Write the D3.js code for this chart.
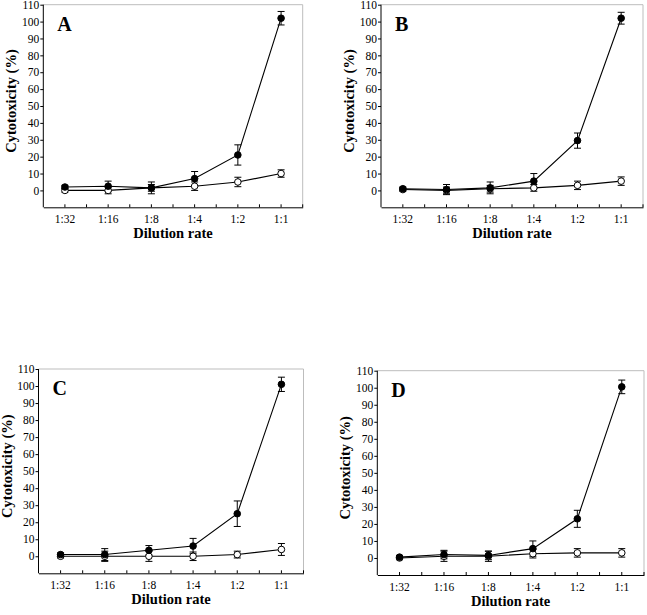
<!DOCTYPE html>
<html>
<head>
<meta charset="utf-8">
<script src="https://cdn.jsdelivr.net/npm/d3@7"></script>
<style>
  html, body { margin: 0; padding: 0; background: #fff; }
  svg { display: block; }
  svg text { font-family: "Liberation Serif", "Times New Roman", serif !important; fill: #000; }
</style>
</head>
<body>
<svg id="chart" width="647" height="615"></svg>
<script>
// ---- data ----
const categories = ["1:32", "1:16", "1:8", "1:4", "1:2", "1:1"];
const yTicks = [0, 10, 20, 30, 40, 50, 60, 70, 80, 90, 100, 110];
const panelLabels = ["A", "B", "C", "D"];

const filledA    = [2, 2.5, 1.5, 7, 21, 102];
const filledAErr = [1, 3, 3.5, 4.2, 6, 4];
const openA      = [0, 0, 1.5, 2.5, 5, 10];
const openAErr   = [1, 2, 2, 2.5, 2.8, 2.2];

const filledB    = [1, 0.5, 1.5, 5.5, 29.5, 102];
const filledBErr = [1, 3, 3.5, 4.5, 4.5, 3.5];
const openB      = [0.5, 0, 1, 1.5, 3, 5.5];
const openBErr   = [1, 2, 2, 2, 2.5, 2.5];

const filledC    = [1, 1, 3.5, 6, 25, 101];
const filledCErr = [1, 3.5, 2.8, 4.5, 7.5, 4.2];
const openC      = [0, 0, 0, 0, 1, 4];
const openCErr   = [1, 3, 3, 2.5, 2, 3.5];

const filledD    = [0.5, 2, 1.5, 5.5, 23, 100.5];
const filledDErr = [1, 2.5, 2.5, 4.5, 5, 4];
const openD      = [0, 1, 1, 2.5, 3, 3];
const openDErr   = [1, 3, 3, 2.5, 2.5, 2.5];

const yLabel = "Cytotoxicity (%)";
const xLabel = "Dilution rate";

// ---- layout ----
const boxes = [
  { left: 43.3, right: 302.7, top: 4.7,   bottom: 207.3 },
  { left: 381,  right: 643,   top: 4.7,   bottom: 207.3 },
  { left: 38.5, right: 303.5, top: 369,   bottom: 573.3 },
  { left: 377.3,right: 644,   top: 370.7, bottom: 575 }
];
const panels = [
  { filled: filledA, filledErr: filledAErr, open: openA, openErr: openAErr },
  { filled: filledB, filledErr: filledBErr, open: openB, openErr: openBErr },
  { filled: filledC, filledErr: filledCErr, open: openC, openErr: openCErr },
  { filled: filledD, filledErr: filledDErr, open: openD, openErr: openDErr }
];

const svg = d3.select("#chart");
const serif = "'Liberation Serif', 'Times New Roman', serif";

panels.forEach((p, i) => {
  const b = boxes[i];
  const g = svg.append("g");
  const x = d3.scaleBand().domain(categories).range([b.left, b.right]).paddingInner(0).paddingOuter(0);
  const cx = c => x(c) + x.bandwidth() / 2;
  const y = d3.scaleLinear().domain([-10, 110]).range([b.bottom, b.top]);

  // frame (top & right, light gray)
  g.append("path")
    .attr("d", `M${b.left},${b.top}H${b.right}V${b.bottom}`)
    .attr("fill", "none").attr("stroke", "#bdbdbd").attr("stroke-width", 1);

  // y axis
  const yAxis = d3.axisLeft(y).tickValues(yTicks).tickSize(3).tickPadding(1).tickSizeOuter(0);
  const ya = g.append("g").attr("transform", `translate(${b.left},0)`).call(yAxis);
  ya.attr("font-family", serif).attr("font-size", 11.5);
  ya.select(".domain").attr("d", `M0,${y(110)}V${b.bottom}`);
  ya.selectAll("text").style("font-family", serif).style("font-size", "11.5px");

  // x axis (ticks pointing up)
  const xAxis = d3.axisBottom(x).tickSize(-3).tickPadding(8).tickSizeOuter(0);
  const xa = g.append("g").attr("transform", `translate(0,${b.bottom})`).call(xAxis);
  xa.attr("font-family", serif).attr("font-size", 11.5);
  xa.selectAll("text").style("font-family", serif).style("font-size", "11.5px");
  // boundary ticks between categories
  xa.selectAll(".btick").data(categories).enter().append("line")
    .attr("class", "btick")
    .attr("x1", c => x(c) + x.bandwidth()).attr("x2", c => x(c) + x.bandwidth())
    .attr("y1", 0).attr("y2", -3).attr("stroke", "#000");
  g.selectAll(".domain").attr("stroke", "#000");

  // axis titles
  g.append("text")
    .attr("transform", `translate(${b.left - 27},${(b.top + b.bottom) / 2 - 5}) rotate(-90)`)
    .attr("text-anchor", "middle")
    .style("font-family", serif).style("font-weight", "bold").style("font-size", "14.5px")
    .text(yLabel);
  g.append("text")
    .attr("x", (b.left + b.right) / 2).attr("y", b.bottom + 31)
    .attr("text-anchor", "middle")
    .style("font-family", serif).style("font-weight", "bold").style("font-size", "14.5px")
    .text(xLabel);

  // panel letter
  g.append("text")
    .attr("x", b.left + 14).attr("y", b.top + 26)
    .style("font-family", serif).style("font-weight", "bold").style("font-size", "20px")
    .text(panelLabels[i]);

  const line = d3.line().x((d, j) => cx(categories[j])).y(d => y(d));
  const series = [
    { v: p.open, e: p.openErr, fill: "#fff" },
    { v: p.filled, e: p.filledErr, fill: "#000" }
  ];
  series.forEach(s => {
    g.append("path").datum(s.v).attr("d", line)
      .attr("fill", "none").attr("stroke", "#000").attr("stroke-width", 1.1);
  });
  series.forEach(s => {
    const eg = g.append("g");
    s.v.forEach((v, j) => {
      const xc = cx(categories[j]);
      const y1 = y(v + s.e[j]), y2 = y(v - s.e[j]);
      eg.append("line").attr("x1", xc).attr("x2", xc).attr("y1", y1).attr("y2", y2).attr("stroke", "#000");
      eg.append("line").attr("x1", xc - 3.5).attr("x2", xc + 3.5).attr("y1", y1).attr("y2", y1).attr("stroke", "#000");
      eg.append("line").attr("x1", xc - 3.5).attr("x2", xc + 3.5).attr("y1", y2).attr("y2", y2).attr("stroke", "#000");
    });
  });
  series.forEach(s => {
    g.append("g").selectAll("circle").data(s.v).enter().append("circle")
      .attr("cx", (d, j) => cx(categories[j])).attr("cy", d => y(d))
      .attr("r", 3.3).attr("fill", s.fill).attr("stroke", "#000").attr("stroke-width", 1);
  });
});
</script>
</body>
</html>
